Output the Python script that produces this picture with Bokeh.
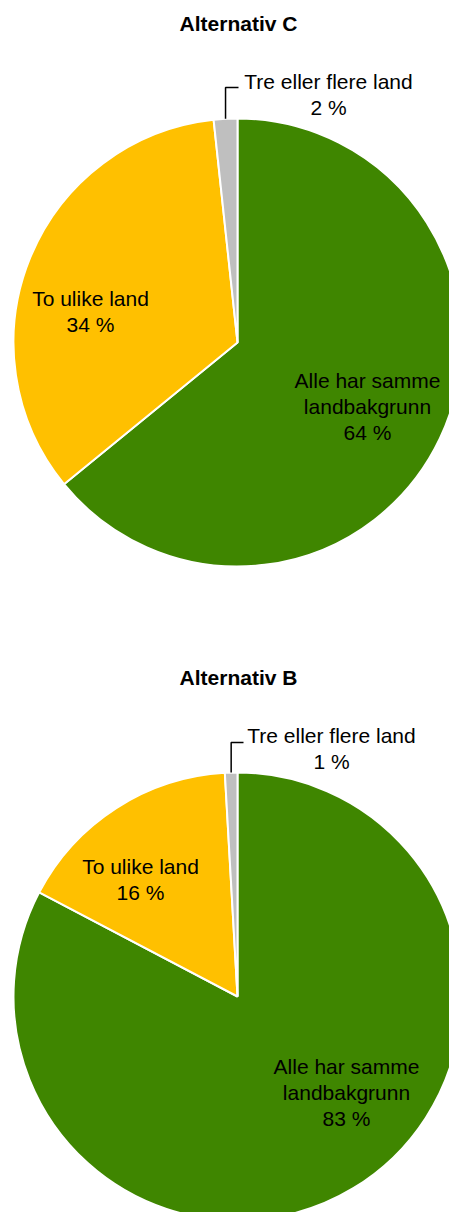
import math
from bokeh.plotting import figure
from bokeh.models import Range1d, ColumnDataSource
from bokeh.core.properties import value
from bokeh.embed import file_html
from bokeh.resources import INLINE

# ---- data ----
categories = ["Alle har samme\nlandbakgrunn", "To ulike land", "Tre eller flere land"]
colors = ["#3F8600", "#FFC000", "#BFBFBF"]
titles = ["Alternativ C", "Alternativ B"]
shares_C = [64.1, 34.2, 1.7]
shares_B = [82.7, 16.4, 0.9]

# ---- layout (screen pixel positions in the 449x1212 window) ----
W, H = 449, 1212
FONT = "Liberation Sans"
pies = [
    dict(title=titles[0], shares=shares_C, cx=237, cy=342, r=224, ty=23,
         label_pos=[(367, 406), (90, 311), (328, 94)], leader_y=87, leader_x2=238),
    dict(title=titles[1], shares=shares_B, cx=237, cy=996, r=224, ty=677,
         label_pos=[(346, 1092), (140, 879), (331, 748)], leader_y=742, leader_x2=243),
]

def Y(y):  # screen y -> data y
    return H - y

p = figure(width=W, height=H, x_range=Range1d(0, W), y_range=Range1d(0, H),
           output_backend="svg", toolbar_location=None, x_axis_type=None, y_axis_type=None,
           min_border=0, outline_line_color=None, background_fill_color="white",
           border_fill_color="white")
p.grid.visible = False

for pie in pies:
    shares = pie["shares"]
    total = sum(shares)
    cum = [0.0]
    for s in shares:
        cum.append(cum[-1] + s / total)
    starts = [math.pi / 2 - c * 2 * math.pi for c in cum[:-1]]
    ends = [math.pi / 2 - c * 2 * math.pi for c in cum[1:]]
    src = ColumnDataSource(dict(start=starts, end=ends, color=colors))
    p.wedge(x=pie["cx"], y=Y(pie["cy"]), radius=pie["r"], start_angle="start", end_angle="end",
            direction="clock", fill_color="color", line_color="white", line_width=2, source=src)

    # labels
    texts = [f"{cat}\n{round(s)} %" for cat, s in zip(categories, shares)]
    lx = [pos[0] for pos in pie["label_pos"]]
    ly = [Y(pos[1]) for pos in pie["label_pos"]]
    p.text(x=lx, y=ly, text=texts, text_align="center", text_baseline="middle",
           text_font=value(FONT), text_font_size="21px", text_color="black",
           text_line_height=1.12)

    # leader line for the small slice
    mid = (cum[2] + cum[3]) / 2 * 2 * math.pi
    ex = pie["cx"] + pie["r"] * math.sin(mid)
    ey = pie["cy"] - pie["r"] * math.cos(mid)
    p.line(x=[ex, ex, pie["leader_x2"]], y=[Y(ey), Y(pie["leader_y"]), Y(pie["leader_y"])],
           line_color="black", line_width=1.5)

    # title
    p.text(x=[238], y=[Y(pie["ty"])], text=[pie["title"]], text_align="center",
           text_baseline="middle", text_font=value(FONT), text_font_size="21px",
           text_font_style="bold", text_color="black")

open("out.html", "w").write(file_html(p, INLINE))
